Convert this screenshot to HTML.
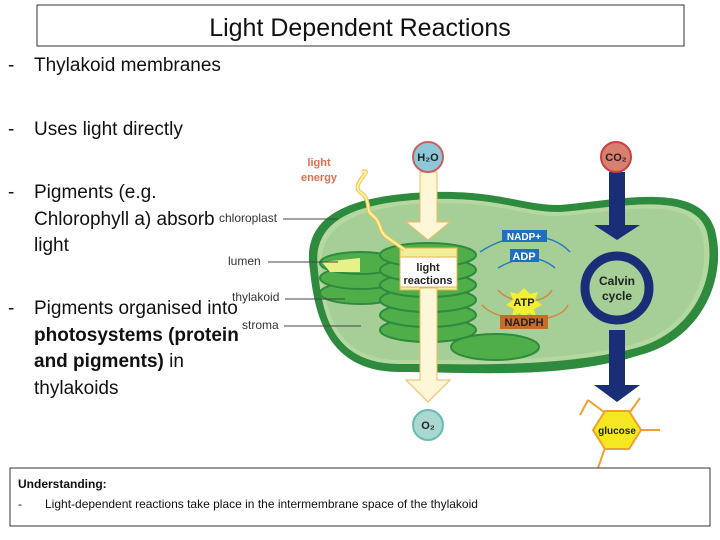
<!DOCTYPE html>
<html><head><meta charset="utf-8"><style>
body{margin:0;width:720px;height:540px;background:#fff;position:relative;overflow:hidden;font-family:"Liberation Sans",sans-serif}
.t{position:absolute;font-size:19px;color:#111;line-height:26.5px}
</style></head><body>
<svg width="720" height="540" style="position:absolute;left:0;top:0" xmlns="http://www.w3.org/2000/svg">
<rect x="37" y="5" width="647" height="41" fill="#fff" stroke="#333" stroke-width="1"/>
<text x="360" y="36" font-size="25" text-anchor="middle" fill="#111" font-family="Liberation Sans">Light Dependent Reactions</text>
<path d="M310,270 C300,210 360,195 430,192 C500,190 520,205 560,205 C620,200 700,180 715,230 C728,280 700,340 640,355 C560,380 470,372 400,372 C330,372 315,320 310,270Z" fill="#2e8b3e"/>
<path d="M318,270 C310,215 365,202 430,199 C500,197 520,212 560,212 C620,207 695,190 707,232 C718,280 692,333 636,348 C560,368 470,364 400,364 C335,364 322,318 318,270Z" fill="#b5d8a0"/>
<path d="M322,270 C316,220 368,206 430,203 C500,201 520,216 560,216 C620,211 690,195 702,234 C712,280 688,329 634,344 C560,363 470,360 400,360 C338,360 326,316 322,270Z" fill="#a5cf97"/>
<g fill="#4fae4a" stroke="#2e8b3e" stroke-width="2">
<ellipse cx="360" cy="293" rx="40" ry="11"/><ellipse cx="360" cy="278" rx="40" ry="11"/><ellipse cx="360" cy="263" rx="40" ry="11"/>
<ellipse cx="428" cy="330" rx="48" ry="12"/><ellipse cx="428" cy="315" rx="48" ry="12"/><ellipse cx="428" cy="300" rx="48" ry="12"/><ellipse cx="428" cy="285" rx="48" ry="12"/><ellipse cx="428" cy="270" rx="48" ry="12"/><ellipse cx="428" cy="255" rx="48" ry="12"/>
<ellipse cx="495" cy="347" rx="44" ry="13"/>
</g>
<path d="M322,262 L360,258 L360,272 L330,272Z" fill="#e8f08a"/>
<path d="M400,248 L457,248 L457,290 L400,290Z" fill="#f2ef9a" stroke="#e8b450"/>
<rect x="400" y="257" width="57" height="30" fill="#fff" stroke="#e8b450"/>
<path d="M420,172 L437,172 L437,222 L450,222 L428,240 L406,222 L420,222Z" fill="#fdf7d8" stroke="#f0b860"/>
<path d="M420,288 L437,288 L437,380 L450,380 L428,402 L406,380 L420,380Z" fill="#fdf7d8" stroke="#f0b860"/>
<text x="428" y="271" font-size="11" font-weight="bold" text-anchor="middle" fill="#222">light</text>
<text x="428" y="284" font-size="11" font-weight="bold" text-anchor="middle" fill="#222">reactions</text>
<circle cx="428" cy="157" r="15" fill="#8ec8d8" stroke="#c86060" stroke-width="2"/>
<text x="428" y="161" font-size="11" font-weight="bold" text-anchor="middle" fill="#222">H₂O</text>
<circle cx="428" cy="425" r="15" fill="#a8d8d0" stroke="#6cbab0" stroke-width="2"/>
<text x="428" y="429" font-size="11" font-weight="bold" text-anchor="middle" fill="#222">O₂</text>
<text x="319" y="166" font-size="11" font-weight="bold" text-anchor="middle" fill="#e07050">light</text>
<text x="319" y="181" font-size="11" font-weight="bold" text-anchor="middle" fill="#e07050">energy</text>
<path d="M362,172 C375,168 350,185 360,192 C372,200 365,210 372,215 C382,222 378,232 388,238 L405,250" fill="none" stroke="#f0c050" stroke-width="4"/>
<path d="M362,172 C375,168 350,185 360,192 C372,200 365,210 372,215 C382,222 378,232 388,238 L405,250" fill="none" stroke="#fdf3a0" stroke-width="2"/>
<path d="M570,252 C550,230 510,232 480,252" fill="none" stroke="#2a7ac0" stroke-width="1.5"/>
<path d="M555,268 C540,255 520,255 498,268" fill="none" stroke="#2a7ac0" stroke-width="1.5"/>
<rect x="502" y="230" width="45" height="12" fill="#1f6fc0"/>
<text x="524" y="240" font-size="10" font-weight="bold" text-anchor="middle" fill="#fff">NADP+</text>
<rect x="510" y="249" width="29" height="13" fill="#1f6fc0"/>
<text x="524" y="260" font-size="11" font-weight="bold" text-anchor="middle" fill="#fff">ADP</text>
<path d="M498,290 C510,305 545,305 552,290" fill="none" stroke="#d08a3a" stroke-width="1.5"/>
<path d="M482,305 C500,325 560,325 568,305" fill="none" stroke="#d08a3a" stroke-width="1.5"/>
<polygon points="524,288 530,294 538,292 535,300 542,305 534,309 536,316 528,313 524,320 520,313 512,316 514,309 506,305 513,300 510,292 518,294" fill="#f6ee30"/>
<text x="524" y="306" font-size="11" font-weight="bold" text-anchor="middle" fill="#222">ATP</text>
<rect x="500" y="315" width="48" height="14" fill="#c86a28"/>
<text x="524" y="326" font-size="11" font-weight="bold" text-anchor="middle" fill="#222">NADPH</text>
<path d="M609,172 L625,172 L625,225 L640,225 L617,240 L594,225 L609,225Z" fill="#1a2e78"/>
<path d="M609,330 L625,330 L625,385 L640,385 L617,402 L594,385 L609,385Z" fill="#1a2e78"/>
<circle cx="617" cy="288" r="32" fill="none" stroke="#1a2e78" stroke-width="9"/>
<text x="617" y="285" font-size="12" font-weight="bold" text-anchor="middle" fill="#222">Calvin</text>
<text x="617" y="300" font-size="12" font-weight="bold" text-anchor="middle" fill="#222">cycle</text>
<circle cx="616" cy="157" r="15" fill="#d88070" stroke="#c84040" stroke-width="2"/>
<text x="616" y="161" font-size="11" font-weight="bold" text-anchor="middle" fill="#222">CO₂</text>
<g stroke="#f0a030" stroke-width="2"><line x1="604" y1="412" x2="588" y2="400"/><line x1="588" y1="400" x2="580" y2="415"/><line x1="630" y1="412" x2="640" y2="398"/><line x1="639" y1="430" x2="660" y2="430"/><line x1="605" y1="448" x2="598" y2="468"/></g>
<polygon points="605,411 629,411 641,430 629,449 605,449 593,430" fill="#f6e820" stroke="#f0a030" stroke-width="2"/>
<text x="617" y="434" font-size="10" font-weight="bold" text-anchor="middle" fill="#222">glucose</text>
<g stroke="#444" stroke-width="1"><line x1="283" y1="219" x2="338" y2="219"/><line x1="268" y1="262" x2="338" y2="262"/><line x1="285" y1="299" x2="345" y2="299"/><line x1="284" y1="326" x2="361" y2="326"/></g>
<g font-size="12" fill="#333"><text x="219" y="222">chloroplast</text><text x="228" y="265">lumen</text><text x="232" y="301">thylakoid</text><text x="242" y="329">stroma</text></g>
<rect x="10" y="468" width="700" height="58" fill="#fff" stroke="#333"/>
<text x="18" y="488" font-size="12" font-weight="bold" fill="#111">Understanding:</text>
<text x="18" y="508" font-size="12" fill="#111">-</text>
<text x="45" y="508" font-size="12" fill="#111">Light-dependent reactions take place in the intermembrane space of the thylakoid</text>
</svg>
<div class="t" style="left:8px;top:53px">-</div>
<div class="t" style="left:34px;top:53px">Thylakoid membranes</div>
<div class="t" style="left:8px;top:117px">-</div>
<div class="t" style="left:34px;top:117px">Uses light directly</div>
<div class="t" style="left:8px;top:180px">-</div>
<div class="t" style="left:34px;top:180px">Pigments (e.g.<br>Chlorophyll a) absorb<br>light</div>
<div class="t" style="left:8px;top:296px">-</div>
<div class="t" style="left:34px;top:296px">Pigments organised into<br><b>photosystems (protein<br>and pigments)</b> in<br>thylakoids</div>
</body></html>
